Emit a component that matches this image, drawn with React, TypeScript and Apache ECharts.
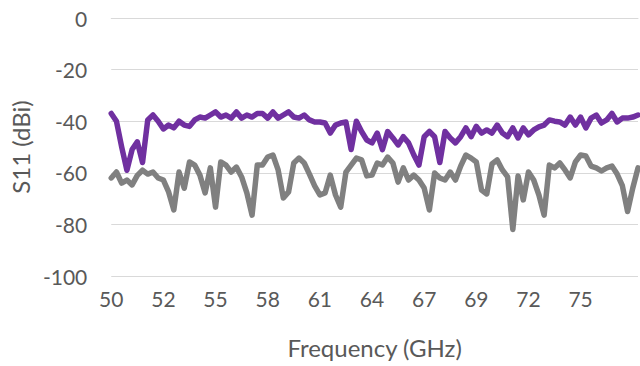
import React, { useEffect, useRef } from "react";
import * as echarts from "echarts";

// Tick labels shown on the frequency (category) axis, one every POINTS_PER_TICK samples
const tickLabels = ["50", "52", "55", "58", "61", "64", "67", "69", "72", "75"];
const POINTS_PER_TICK = 10;

// S11 (dBi) – purple series
const purpleValues = [
  -37, -40, -50, -59, -51, -48, -56, -39.5, -37.6, -40,
  -43, -41.5, -42.6, -40, -41.5, -42, -39.5, -38.4, -38.8, -37.6,
  -36.4, -38.4, -37.6, -38.8, -36.4, -38.8, -37.6, -38.4, -37, -37,
  -38.8, -36.4, -38.8, -37.6, -36.4, -38.4, -38.8, -37.6, -39.5, -40.3,
  -40.3, -40.7, -44.6, -41.5, -40.7, -40.3, -51, -40, -44, -47.3,
  -48.4, -44.6, -51, -44, -46.5, -49.2, -46, -48.4, -53, -57,
  -46, -44, -46, -56, -44, -46.5, -48.4, -46, -42.6, -46,
  -42, -44.6, -43.4, -44.6, -41.5, -44.6, -46, -42.6, -46.5, -42.6,
  -45.3, -43.4, -42.2, -41.5, -39.5, -40, -40.3, -41.5, -38.4, -41.5,
  -38.4, -42.6, -38.8, -37.6, -40.7, -39.5, -37, -40.3, -38.8, -38.8,
  -38.4, -37.6,
];

// S11 (dBi) – gray series
const grayValues = [
  -62, -59.7, -64, -62.8, -64.7, -61, -59, -60.5, -59.7, -62,
  -62.8, -67.4, -74.4, -59.7, -66, -55.8, -57, -60.9, -67.8, -58.1,
  -73.3, -55.8, -57, -59.7, -57.8, -61.6, -67.8, -76.4, -57, -57,
  -53.9, -53.1, -58.9, -69.8, -67.4, -56.2, -54.3, -56.2, -60.5, -65.1,
  -68.6, -67.8, -60.9, -68.6, -73.3, -59.7, -57, -54.3, -55, -61.2,
  -60.9, -56.2, -57, -53.9, -56.2, -63.6, -58.1, -62.8, -60.9, -62.8,
  -65.9, -74.4, -60.1, -62, -62.8, -59.7, -62.8, -57.4, -53.1, -54.3,
  -55.8, -66.7, -68.2, -56.6, -55, -58.9, -61.6, -82, -61.2, -70.5,
  -59.7, -62.8, -68.6, -76.4, -57, -58.1, -56.2, -58.9, -62, -55.8,
  -53.1, -53.5, -57.4, -58.1, -59.3, -58.1, -57.4, -60.5, -65, -75,
  -65.9, -58.1,
];

const categories = purpleValues.map((_, i) => String(i));

const FONT = "Lato, 'Open Sans', sans-serif";
const TEXT = "#595959";

export default function App() {
  const ref = useRef<HTMLDivElement>(null);
  useEffect(() => {
    if (!ref.current) return;
    const chart = echarts.init(ref.current, undefined, { renderer: "svg" });
    chart.setOption({
      animation: false,
      backgroundColor: "#ffffff",
      grid: { left: 107, right: 2, top: 18, bottom: 90, containLabel: false },
      xAxis: {
        type: "category",
        data: categories,
        boundaryGap: false,
        name: "Frequency (GHz)",
        nameLocation: "middle",
        nameGap: 59,
        nameTextStyle: { color: TEXT, fontSize: 24, fontFamily: FONT },
        axisLine: { show: true, lineStyle: { color: "#d9d9d9", width: 1 } },
        axisTick: { show: false },
        splitLine: { show: false },
        axisLabel: {
          interval: (index: number) => index % POINTS_PER_TICK === 0,
          formatter: (_v: string, index: number) =>
            tickLabels[Math.round(index / POINTS_PER_TICK)] ?? "",
          color: TEXT,
          fontSize: 21,
          fontFamily: FONT,
          margin: 12,
        },
      },
      yAxis: {
        type: "value",
        min: -100,
        max: 0,
        interval: 20,
        name: "S11 (dBi)",
        nameLocation: "middle",
        nameGap: 78,
        nameRotate: 90,
        nameTextStyle: { color: TEXT, fontSize: 24, fontFamily: FONT },
        axisLine: { show: false },
        axisTick: { show: false },
        splitLine: { show: true, lineStyle: { color: "#d9d9d9", width: 1 } },
        axisLabel: { color: TEXT, fontSize: 21, fontFamily: FONT, margin: 24 },
      },
      series: [
        {
          type: "line",
          data: grayValues,
          showSymbol: false,
          symbol: "none",
          lineStyle: { color: "#808080", width: 5.5, join: "round", cap: "round" },
          itemStyle: { color: "#808080" },
          z: 2,
        },
        {
          type: "line",
          data: purpleValues,
          showSymbol: false,
          symbol: "none",
          lineStyle: { color: "#7030A0", width: 5.5, join: "round", cap: "round" },
          itemStyle: { color: "#7030A0" },
          z: 3,
        },
      ],
    });
    return () => chart.dispose();
  }, []);
  return (
    <div
      ref={ref}
      style={{ position: "fixed", left: 0, top: 0, width: 640, height: 366, background: "#fff" }}
    />
  );
}
